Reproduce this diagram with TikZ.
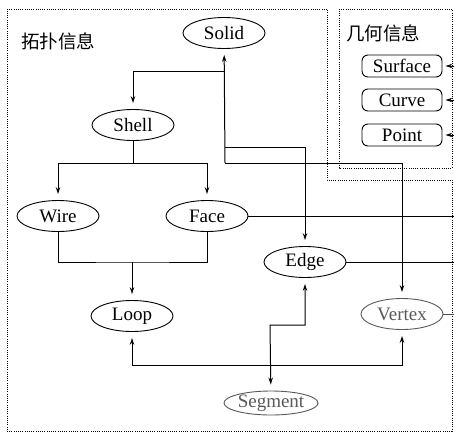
\documentclass[tikz,border=0pt]{standalone}
\usepackage{fontspec}
\setmainfont{Liberation Serif}
\newfontfamily\cjk{Noto Sans CJK SC}
\usetikzlibrary{shapes.geometric,arrows.meta}
\begin{document}
\begin{tikzpicture}[x=1pt,y=-1pt,
  ell/.style={ellipse, draw, line width=0.9pt, minimum width=82pt, minimum height=31pt, inner sep=0pt, font=\fontsize{19}{21}\selectfont},
  gell/.style={ell, draw=black!65, text=black!65},
  geo/.style={draw, rounded corners=6pt, line width=0.9pt, minimum width=80pt, minimum height=22pt, inner sep=0pt, font=\fontsize{19}{21}\selectfont},
  conn/.style={line width=1pt},
  arr/.style={conn, -{Stealth[length=7pt,width=4.5pt]}, shorten >=6pt},
  barr/.style={conn, {Stealth[length=7pt,width=4.5pt]}-{Stealth[length=7pt,width=4.5pt]}, shorten >=6pt, shorten <=6pt},
  frame/.style={line width=0.9pt, dash pattern=on 0.8pt off 1.4pt},
  lbl/.style={font=\cjk\fontsize{18.5}{20}\selectfont, inner sep=0pt}
]
\useasboundingbox (0,0) rectangle (454,436);

% frames
\draw[frame] (7,9) -- (327,9) -- (327,180) -- (452,180) -- (452,431) -- (7,431) -- cycle;
\draw[frame] (339,9) -- (452,9) -- (452,168) -- (339,168) -- cycle;
\node[lbl] (topo) at (58,41) {拓扑信息};
\node[lbl] (geom) at (383,33) {几何信息};

% nodes
\node[ell] (Solid) at (224,33) {Solid};
\node[ell] (Shell) at (133,125) {Shell};
\node[ell] (Wire) at (58,216) {Wire};
\node[ell] (Face) at (207,216) {Face};
\node[ell] (Edge) at (305,262) {Edge};
\node[ell] (Loop) at (132,316) {Loop};
\node[gell] (Vertex) at (402,314) {Vertex};
\node[gell, minimum height=24pt] (Segment) at (271,403) {Segment};

\node[geo] (Surface) at (402,66) {Surface};
\node[geo] (Curve) at (402,100) {Curve};
\node[geo] (Point) at (402,135) {Point};

% coordinates
\coordinate (sb) at (225,163);
\coordinate (s1) at (225,71);
\coordinate (s2) at (225,147);
\coordinate (h1) at (133,163);
\coordinate (l1) at (132,262);
\coordinate (e1) at (305,325);
\coordinate (e2) at (270,325);
\coordinate (v1) at (132,365);
\coordinate (v2) at (402,365);
\coordinate (fr) at (454,216);
\coordinate (er) at (454,262);
\coordinate (vr) at (454,314);
\coordinate (gs) at (454,66);
\coordinate (gc) at (454,100);
\coordinate (gp) at (454,135);

% Solid bus
\draw[arr] (sb) -- (Solid);
\draw[arr] (s1) -| (Shell);
\draw[arr] (s2) -| (Edge);
\draw[arr] (sb) -| (Vertex);

% Shell -> Wire, Face
\draw[conn] (Shell) -- (h1);
\draw[arr] (h1) -| (Wire);
\draw[arr] (h1) -| (Face);

% Wire, Face -> Loop
\draw[conn] (Wire) |- (l1) -| (Face);
\draw[arr] (l1) -- (Loop);

% right lines
\draw[conn] (Face) -- (fr);
\draw[conn] (Edge) -- (er);
\draw[conn, black!70] (Vertex) -- (vr);

% Edge <-> Segment
\draw[barr] (Edge) -- (e1) -- (e2) -- (Segment);
% Loop <-> Vertex
\draw[barr] (Loop) -- (v1) -- (v2) -- (Vertex);

% geometry arrows
\draw[arr, shorten >=3pt] (gs) -- (Surface);
\draw[arr, shorten >=3pt] (gc) -- (Curve);
\draw[arr, shorten >=3pt] (gp) -- (Point);
\end{tikzpicture}
\end{document}
